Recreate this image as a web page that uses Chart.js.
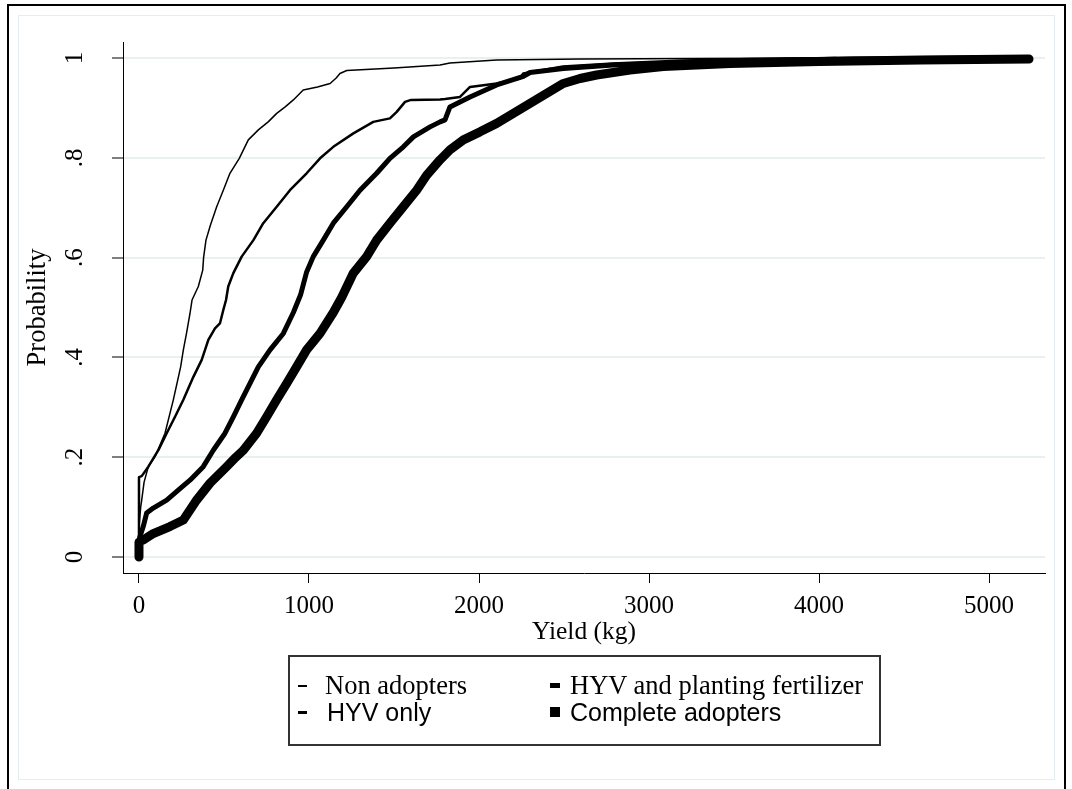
<!DOCTYPE html>
<html>
<head>
<meta charset="utf-8">
<script src="https://cdn.jsdelivr.net/npm/chart.js@4/dist/chart.umd.min.js"></script>
<style>
html,body{margin:0;padding:0;background:#fff;}
#wrap{position:relative;width:1072px;height:789px;overflow:hidden;background:#fff;}
#c{position:absolute;left:0;top:0;}
#outer{position:absolute;left:7px;top:4px;width:1055px;height:820px;border:2px solid #000;}
#inner{position:absolute;left:18px;top:15px;width:1035px;height:763px;border:1px solid #e4edf0;}
#legend{position:absolute;left:288px;top:655px;width:593px;height:91px;border:2px solid #333;box-sizing:border-box;}
.lt{position:absolute;white-space:nowrap;color:#000;}
.serif{font-family:"Liberation Serif","Times New Roman",serif;font-size:26.5px;line-height:27px;}
.sans{font-family:"Liberation Sans",Arial,sans-serif;font-size:25px;line-height:25px;}
.sym{position:absolute;background:#000;}
</style>
</head>
<body>
<div id="wrap">
  <div id="outer"></div>
  <div id="inner"></div>
  <canvas id="c" width="1072" height="789"></canvas>
  <div id="legend"></div>
</div>
<script>
// ---- data ----
const seriesNames = ["Non adopters", "HYV only", "HYV and planting fertilizer", "Complete adopters"];

const nonX = [0,0,10,16,30,55,94,153,202,245,261,280,300,312,349,375,380,394,420,457,496,535,590,643,702,760,810,860,908,966,1050,1124,1160,1182,1222,1500,1771,1829,2104,2600,3300,4090];
const nonY = [0,0.06,0.10,0.114,0.15,0.181,0.201,0.248,0.315,0.381,0.415,0.449,0.488,0.515,0.542,0.575,0.60,0.635,0.665,0.702,0.735,0.769,0.799,0.836,0.856,0.872,0.889,0.902,0.916,0.936,0.942,0.949,0.96,0.969,0.975,0.98,0.986,0.99,0.996,0.998,0.999,1.0];

const hyvX = [0,0,16,55,114,163,212,261,320,369,408,447,476,496,512,525,555,604,673,731,810,888,986,1065,1143,1261,1378,1476,1516,1565,1600,1771,1800,1888,1947,2104,2241,2260,2494,2788,3200,3600,4100];
const hyvY = [0,0.16,0.162,0.181,0.214,0.248,0.281,0.315,0.361,0.395,0.435,0.458,0.468,0.495,0.515,0.542,0.569,0.602,0.635,0.669,0.702,0.735,0.769,0.799,0.822,0.849,0.872,0.879,0.892,0.912,0.916,0.917,0.918,0.922,0.942,0.949,0.959,0.969,0.983,0.989,0.995,0.998,1.0];

const pfX = [0,0,5,25,45,84,163,231,300,378,437,506,555,604,653,702,771,849,908,950,985,1025,1084,1143,1222,1300,1398,1476,1555,1614,1712,1771,1800,1829,1947,2104,2261,2300,2496,2790,3084,3500,4200,5000];
const pfY = [0,0.03,0.04,0.061,0.088,0.098,0.114,0.134,0.154,0.181,0.214,0.248,0.281,0.315,0.348,0.381,0.415,0.448,0.49,0.525,0.57,0.602,0.635,0.669,0.702,0.735,0.769,0.799,0.822,0.842,0.862,0.872,0.876,0.902,0.922,0.946,0.963,0.971,0.979,0.986,0.989,0.994,0.998,1.0];

const compX = [0,0,25,84,182,261,339,418,516,570,614,692,751,810,869,927,986,1065,1143,1192,1261,1339,1398,1476,1555,1633,1692,1771,1829,1908,2006,2104,2202,2300,2398,2496,2594,2692,2888,3084,3476,4000,4600,5235];
const compY = [0,0.03,0.034,0.047,0.061,0.074,0.114,0.148,0.181,0.200,0.214,0.248,0.281,0.315,0.348,0.381,0.415,0.448,0.49,0.52,0.569,0.602,0.635,0.669,0.702,0.735,0.765,0.796,0.816,0.836,0.852,0.869,0.889,0.909,0.929,0.949,0.959,0.966,0.976,0.983,0.989,0.993,0.996,0.998];

const xTicks = [0,1000,2000,3000,4000,5000];
const xTickLabels = ["0","1000","2000","3000","4000","5000"];
const yTicks = [0,0.2,0.4,0.6,0.8,1];
const yTickLabels = ["0",".2",".4",".6",".8","1"];
const xTitle = "Yield (kg)";
const yTitle = "Probability";

// ---- build ----
function pts(xs, ys){ return xs.map((x,i)=>({x:x, y:ys[i]})); }
const widths = [1.5, 2.5, 5, 9];
const allX = [nonX, hyvX, pfX, compX];
const allY = [nonY, hyvY, pfY, compY];
const datasets = seriesNames.map((n,i)=>({
  label:n,
  data:pts(allX[i], allY[i]),
  showLine:true,
  borderColor:'#000',
  backgroundColor:'#000',
  borderWidth:widths[i],
  pointRadius:0,
  tension:0,
  borderJoinStyle:'round',
  borderCapStyle:'round',
  order:3-i,
  fill:false
}));

const serif = '"Liberation Serif", "Times New Roman", serif';

const yTickLabelPlugin = {
  id:'yTickLabels',
  afterDraw(chart){
    const s = chart.scales.y, ctx = chart.ctx;
    ctx.save();
    ctx.font = '25px ' + serif;
    ctx.fillStyle = '#000';
    ctx.textAlign = 'center';
    ctx.textBaseline = 'alphabetic';
    s.ticks.forEach((t,i)=>{
      const py = s.getPixelForValue(t.value);
      ctx.save();
      ctx.translate(82, py);
      ctx.rotate(-Math.PI/2);
      ctx.fillText(yTickLabels[i], 0, 0);
      ctx.restore();
    });
    ctx.restore();
  }
};

new Chart(document.getElementById('c'), {
  type:'scatter',
  data:{datasets:datasets},
  options:{
    responsive:false,
    animation:false,
    events:[],
    layout:{padding:{left:0, right:27, top:42, bottom:136}},
    plugins:{legend:{display:false}, tooltip:{enabled:false}},
    scales:{
      x:{
        type:'linear',
        min:-94, max:5329,
        afterBuildTicks(s){ s.ticks = xTicks.map(v=>({value:v})); },
        afterFit(s){ s.height = 80; },
        ticks:{
          callback:(v)=>{ const k = xTicks.indexOf(v); return k>=0 ? xTickLabels[k] : ''; },
          font:{family:serif, size:25},
          color:'#000',
          padding:8,
          maxRotation:0, minRotation:0,
          autoSkip:false
        },
        grid:{drawOnChartArea:false, tickLength:10, tickColor:'#000', tickWidth:1, color:'#000'},
        border:{display:true, color:'#000', width:1},
        title:{display:true, text:xTitle, font:{family:serif, size:25.5}, color:'#000', padding:{top:0, bottom:5}}
      },
      y:{
        type:'linear',
        min:-0.0321, max:1.0321,
        afterBuildTicks(s){ s.ticks = yTicks.map(v=>({value:v})); },
        afterFit(s){ s.width = 123; },
        ticks:{display:false},
        grid:{drawOnChartArea:true, color:'#e8f0f2', lineWidth:2, tickLength:11, tickColor:'#000', tickWidth:1},
        border:{display:true, color:'#000', width:1},
        title:{display:true, text:yTitle, font:{family:serif, size:26.5}, color:'#000', padding:{top:22, bottom:0}}
      }
    }
  },
  plugins:[yTickLabelPlugin]
});

// ---- HTML legend ----
const leg = document.getElementById('legend');
const legendItems = [
  {text:seriesNames[0], cls:'serif', left:325-288, top:672-655, sym:{l:298-288,t:685-655,w:9,h:2}},
  {text:seriesNames[1], cls:'sans',  left:327-288, top:700-655, sym:{l:298-288,t:711-655,w:9,h:3}},
  {text:seriesNames[2], cls:'serif', left:570-288, top:672-655, sym:{l:550-288,t:683-655,w:10,h:5}},
  {text:seriesNames[3], cls:'sans',  left:570-288, top:700-655, sym:{l:550-288,t:707-655,w:10,h:10}}
];
legendItems.forEach(it=>{
  const s = document.createElement('div');
  s.className='sym';
  s.style.left=(it.sym.l-2)+'px'; s.style.top=(it.sym.t-2)+'px';
  s.style.width=it.sym.w+'px'; s.style.height=it.sym.h+'px';
  leg.appendChild(s);
  const t = document.createElement('div');
  t.className='lt '+it.cls;
  t.style.left=(it.left-2)+'px'; t.style.top=(it.top-2)+'px';
  t.textContent=it.text;
  leg.appendChild(t);
});
</script>
</body>
</html>
